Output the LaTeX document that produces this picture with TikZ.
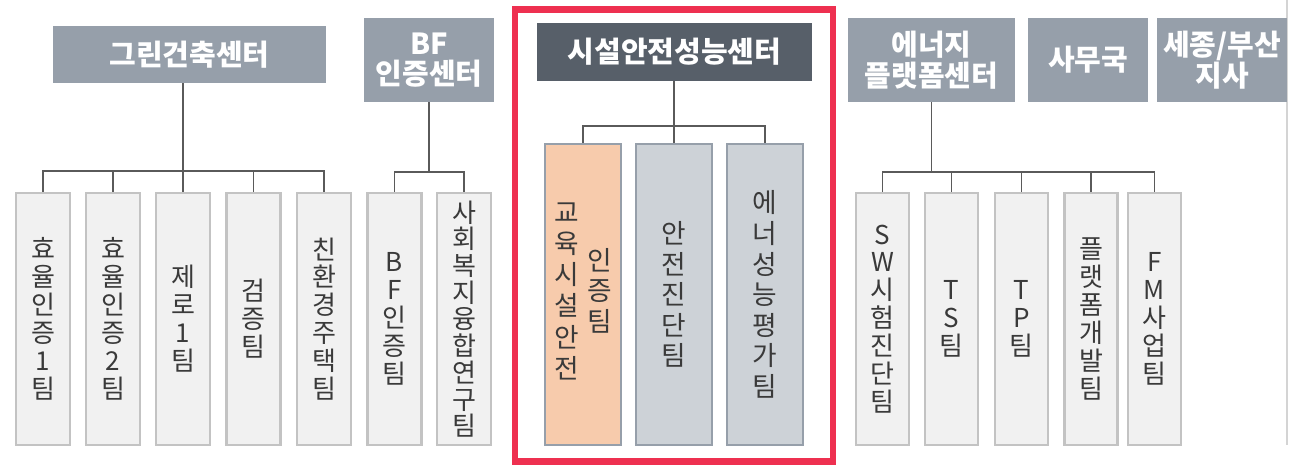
\documentclass[tikz,border=0pt]{standalone}
\usepackage{fontspec}
\setmainfont{Noto Sans CJK KR}
\definecolor{hubgray}{HTML}{969FAA}
\definecolor{hubdark}{HTML}{575F69}
\definecolor{frame}{HTML}{EE3050}
\definecolor{teamfill}{HTML}{F1F1F1}
\definecolor{teamline}{HTML}{C3C3C3}
\definecolor{teamtext}{HTML}{3A3A3A}
\definecolor{orangefill}{HTML}{F7CBAC}
\definecolor{grayfill}{HTML}{CDD2D7}
\definecolor{conncol}{HTML}{5A5A5A}
\definecolor{edge}{HTML}{D4D4D4}
\begin{document}
\begin{tikzpicture}[x=0.02cm,y=-0.02cm,
		hub/.style={fill=hubgray, text=white, inner sep=0pt, align=center,
			font=\fontsize{16.5}{17.5}\selectfont\bfseries},
		team/.style={draw=teamline, fill=teamfill, line width=1.2pt, text=teamtext,
			minimum width=1.08cm, minimum height=5.04cm, inner sep=0pt, align=center,
			font=\fontsize{14.8}{15.9}\selectfont},
		mainteam/.style={team, draw=hubgray, fill=grayfill, minimum width=1.52cm,
			minimum height=6.02cm, font=\fontsize{15.2}{17.4}\selectfont},
		conn/.style={draw=conncol, line width=0.8pt}]
		\useasboundingbox (0,0) rectangle (1292,470);
		\draw[edge, line width=1.1pt] (1287,0) -- (1287,445);
		
		% centres
		\node[hub, minimum width=5.46cm, minimum height=1.14cm] (gb) at (189.5,54.5) {그린건축센터};
		\node[hub, minimum width=2.6cm, minimum height=1.68cm] (bf) at (429,60) {BF\\인증센터};
		\node[hub, fill=hubdark, minimum width=5.5cm, minimum height=1.16cm] (fs) at (674.5,52) {시설안전성능센터};
		\node[hub, minimum width=3.34cm, minimum height=1.68cm] (ep) at (931.5,60) {에너지\\플랫폼센터};
		\node[hub, minimum width=2.4cm, minimum height=1.68cm] (sm) at (1088,60) {사무국};
		\node[hub, minimum width=2.6cm, minimum height=1.68cm] (sj) at (1222,60) {세종/부산\\지사};
		
		% teams
		\node[team] (g1) at (43,319) {효\\율\\인\\증\\1\\팀};
		\node[team] (g2) at (113,319) {효\\율\\인\\증\\2\\팀};
		\node[team] (g3) at (183,319) {제\\로\\1\\팀};
		\node[team] (g4) at (253.5,319) {검\\증\\팀};
		\node[team] (g5) at (324,319) {친\\환\\경\\주\\택\\팀};
		\node[team] (b1) at (394.5,319) {B\\F\\인\\증\\팀};
		\node[team, font=\fontsize{14.8}{15.2}\selectfont] (b2) at (464,319) {사\\회\\복\\지\\융\\합\\연\\구\\팀};
		
		\node[mainteam, fill=orangefill] (c1) at (583,294.5) {\begin{tabular}{@{}c@{\hspace{5pt}}c@{}}
				\begin{tabular}{@{}c@{}}교\\육\\시\\설\\안\\전\end{tabular} &
				\begin{tabular}{@{}c@{}}인\\증\\팀\end{tabular}
			\end{tabular}};
		\node[mainteam] (c2) at (674,294.5) {안\\전\\진\\단\\팀};
		\node[mainteam] (c3) at (765,294.5) {에\\너\\성\\능\\평\\가\\팀};
		
		\node[team, minimum width=1.06cm] (e1) at (882.5,319) {S\\W\\시\\험\\진\\단\\팀};
		\node[team, minimum width=1.06cm] (e2) at (951.5,319) {T\\S\\팀};
		\node[team, minimum width=1.06cm] (e3) at (1021.5,319) {T\\P\\팀};
		\node[team, minimum width=1.06cm] (e4) at (1091,319) {플\\랫\\폼\\개\\발\\팀};
		\node[team, minimum width=1.06cm] (e5) at (1154.5,319) {F\\M\\사\\업\\팀};
		
		% links
		\draw[conn] (gb.south -| g3.north) -- (g3.north);
		\draw[conn] (g1.north) -- ++(0,-21) -| (g5.north);
		\foreach \t in {g2,g4}
		\draw[conn] (\t.north) -- ++(0,-21);
		
		\draw[conn] (b1.north) -- ++(0,-20) coordinate (bbus) -| (b2.north);
		\draw[conn] (bf.south) -- (bf.south |- bbus);
		
		\draw[conn] (fs.south -| c2.north) -- (c2.north);
		\draw[conn] (c1.north) -- ++(0,-17) -| (c3.north);
		
		\draw[conn] (e1.north) -- ++(0,-20) coordinate (ebus) -| (e5.north);
		\foreach \t in {e2,e3,e4}
		\draw[conn] (\t.north) -- ++(0,-20);
		\draw[conn] (ep.south) -- (ep.south |- ebus);
		
		\draw[frame, line width=3.7pt] (515,9.5) rectangle (833,461.5);
		
	\end{tikzpicture}
\end{document}
